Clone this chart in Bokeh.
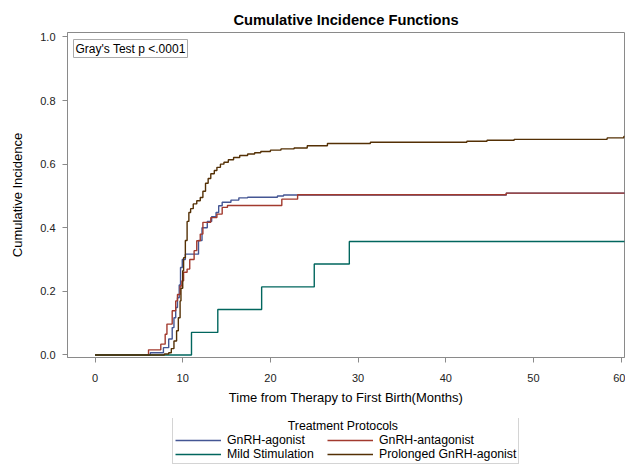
from bokeh.plotting import figure
from bokeh.models import Range1d, Legend, LegendItem, Label, FixedTicker
from bokeh.layouts import column
from bokeh.embed import file_html
from bokeh.resources import INLINE

# ---- data ----
series_names = ["GnRH-agonist", "GnRH-antagonist", "Mild Stimulation", "Prolonged GnRH-agonist"]
series_colors = ["#445694", "#A23A2E", "#01665E", "#543005"]

agonist_t = [0, 6.3, 7.8, 8.4, 8.8, 9.0, 9.2, 9.4, 9.6, 9.75, 9.95, 10.3, 11.8, 12.2, 12.8, 13.3, 13.8,
             14.1, 14.5, 15.5, 16.4, 17.4, 20.8, 21.5, 46.9, 61]
agonist_v = [0, 0.007, 0.023, 0.05, 0.086, 0.117, 0.149, 0.18, 0.22, 0.275, 0.30, 0.317, 0.36, 0.40, 0.42,
             0.435, 0.448, 0.469, 0.48, 0.487, 0.494, 0.496, 0.50, 0.503, 0.509, 0.509]

antagonist_t = [0, 6.1, 7.5, 8.0, 8.2, 8.8, 9.2, 9.4, 9.7, 9.9, 10.1, 10.5, 10.8, 11.3, 11.6, 12.0, 12.3,
                13.2, 13.9, 14.5, 15.1, 21.3, 23.1, 46.9, 61]
antagonist_v = [0, 0.016, 0.034, 0.065, 0.097, 0.139, 0.17, 0.19, 0.217, 0.233, 0.26, 0.27, 0.30, 0.328,
                0.359, 0.38, 0.417, 0.432, 0.443, 0.464, 0.470, 0.490, 0.504, 0.509, 0.509]

mild_t = [0, 11, 14, 19, 25, 29, 61]
mild_v = [0, 0.071, 0.143, 0.214, 0.286, 0.357, 0.357]

prolonged_t = [0, 7.9, 8.4, 8.7, 9.0, 9.3, 9.5, 9.7, 9.8, 10.0, 10.1, 10.3, 10.5, 10.7, 10.9, 11.2, 11.6,
               12.0, 12.3, 12.6, 12.9, 13.2, 13.6, 13.9, 14.3, 14.7, 15.2, 15.8, 16.5, 17.4, 18.2, 18.9,
               20.0, 21.2, 22.7, 24.2, 26.5, 31.4, 42.4, 44.7, 47.8, 58.4, 60.3, 61]
prolonged_v = [0, 0.003, 0.007, 0.02, 0.044, 0.076, 0.117, 0.17, 0.21, 0.265, 0.306, 0.36, 0.42, 0.448,
               0.46, 0.475, 0.485, 0.495, 0.515, 0.54, 0.555, 0.57, 0.58, 0.59, 0.60, 0.606, 0.614, 0.621,
               0.627, 0.632, 0.636, 0.640, 0.644, 0.648, 0.651, 0.658, 0.665, 0.669, 0.672, 0.675, 0.678,
               0.6825, 0.687, 0.687]

x_ticks = [0, 10, 20, 30, 40, 50, 60]
y_ticks = [0.0, 0.2, 0.4, 0.6, 0.8, 1.0]
y_tick_labels = ["0.0", "0.2", "0.4", "0.6", "0.8", "1.0"]

FONT = "Liberation Sans"
AXIS_GRAY = "#8a8a8a"

# ---------------- main chart ----------------
p = figure(width=625, height=418, output_backend="svg", toolbar_location=None,
           x_range=Range1d(-3.14, 60.38), y_range=Range1d(-0.008, 1.014),
           min_border_left=67, min_border_right=1, min_border_top=32, min_border_bottom=61,
           title="Cumulative Incidence Functions")

p.title.align = "center"
p.title.text_font = FONT
p.title.text_font_size = "14.7px"
p.title.text_font_style = "bold"
p.title.text_color = "#000000"

p.grid.visible = False
p.outline_line_color = AXIS_GRAY
p.background_fill_color = "white"
p.border_fill_color = "white"

for ax in (p.xaxis[0], p.yaxis[0]):
    ax.axis_line_color = AXIS_GRAY
    ax.major_tick_line_color = AXIS_GRAY
    ax.minor_tick_line_color = None
    ax.major_tick_in = 0
    ax.major_tick_out = 5
    ax.major_label_text_font = FONT
    ax.major_label_text_font_size = "11px"
    ax.major_label_text_color = "#222222"
    ax.axis_label_text_font = FONT
    ax.axis_label_text_font_size = "13px"
    ax.axis_label_text_font_style = "normal"
    ax.axis_label_text_color = "#000000"

p.xaxis.ticker = FixedTicker(ticks=x_ticks)
p.yaxis.ticker = FixedTicker(ticks=y_ticks)
p.yaxis.major_label_overrides = {t: l for t, l in zip(y_ticks, y_tick_labels)}
p.xaxis.axis_label = "Time from Therapy to First Birth(Months)"
p.yaxis.axis_label = "Cumulative Incidence"
p.xaxis.major_label_standoff = 11
p.yaxis.major_label_standoff = 7
p.xaxis.axis_label_standoff = 5
p.yaxis.axis_label_standoff = 12

series = [(agonist_t, agonist_v), (antagonist_t, antagonist_v), (mild_t, mild_v), (prolonged_t, prolonged_v)]
for (t, v), c in zip(series, series_colors):
    p.step(t, v, mode="after", line_color=c, line_width=1.4)

p.add_layout(Label(x=6, y=318, x_units="screen", y_units="screen", text="Gray's Test p <.0001",
                   anchor="top_left", text_font=FONT, text_font_size="12px", text_color="#000000",
                   border_line_color="#aaaaaa", border_line_width=1, background_fill_color="white",
                   padding=2))

# ---------------- legend strip ----------------
# the series are drawn here too, but outside the visible y range, so only their legend samples show
leg = figure(width=625, height=47, output_backend="svg", toolbar_location=None,
             x_range=Range1d(0, 60), y_range=Range1d(10, 11), x_axis_type=None, y_axis_type=None,
             min_border=0)
leg.grid.visible = False
leg.outline_line_color = None
leg.background_fill_color = "white"
leg.border_fill_color = "white"

leg_renderers = [leg.line(x=t, y=v, line_color=c, line_width=1.4) for (t, v), c in zip(series, series_colors)]

legend_title = "\u00a0" * 33 + "Treatment Protocols"
order = [0, 2, 1, 3]
items = [LegendItem(label=series_names[i], renderers=[leg_renderers[i]]) for i in order]
legend = Legend(items=items, ncols=2, location=(105, 1), title=legend_title,
                glyph_width=46, glyph_height=12, label_height=12, label_width=100, label_standoff=6,
                spacing=0, padding=2, margin=0,
                border_line_color="#aaaaaa", border_line_width=1,
                label_text_font=FONT, label_text_font_size="12.3px", label_text_color="#000000",
                title_text_font=FONT, title_text_font_size="12.3px", title_text_font_style="normal",
                title_text_color="#000000", title_standoff=0, background_fill_color="white")
leg.add_layout(legend, "center")

layout = column(p, leg, spacing=0)
open("out.html", "w").write(file_html(layout, INLINE))
